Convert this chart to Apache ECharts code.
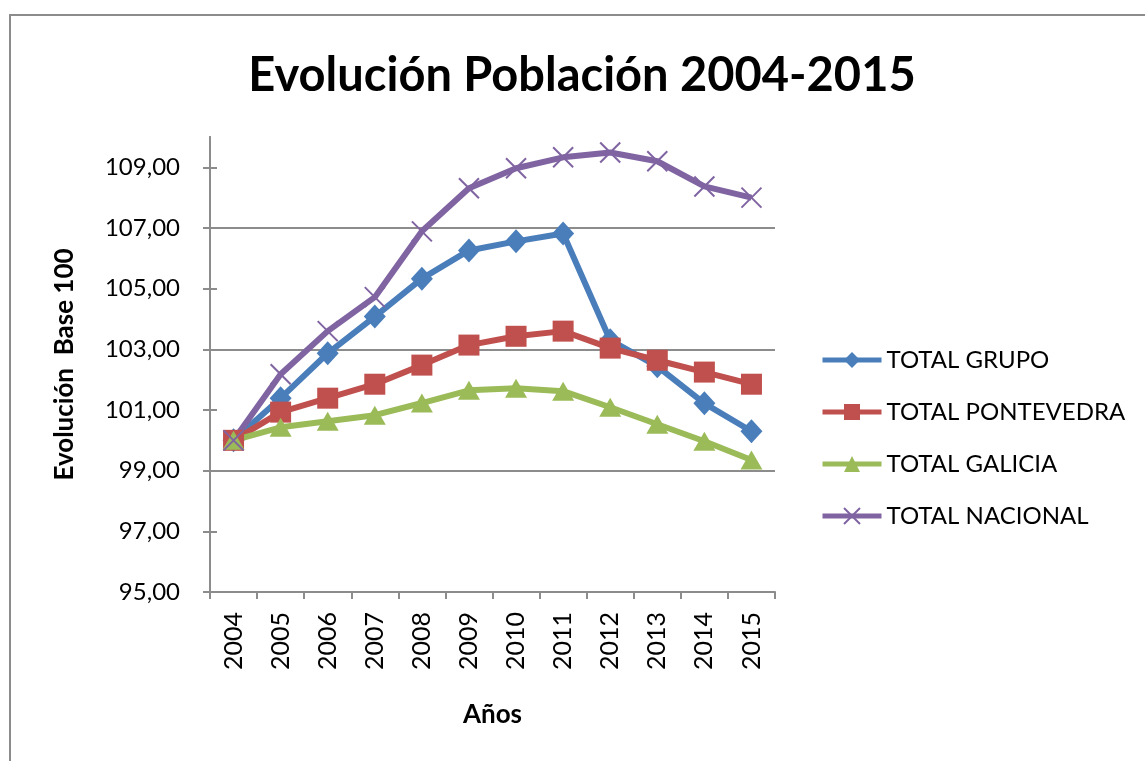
<!DOCTYPE html>
<html>
<head>
<meta charset="utf-8">
<script src="https://cdn.jsdelivr.net/npm/echarts@6/dist/echarts.min.js"></script>
<style>
  html, body { margin: 0; padding: 0; background: #fff; }
  #chart { width: 1145px; height: 761px; }
</style>
</head>
<body>
<div id="chart"></div>
<script>
// Years on the horizontal axis
const years = ['2004','2005','2006','2007','2008','2009','2010','2011','2012','2013','2014','2015'];

// Population index, base 2004 = 100
const totalGrupo      = [100.00, 101.39, 102.87, 104.08, 105.33, 106.26, 106.56, 106.82, 103.30, 102.44, 101.22, 100.30];
const totalPontevedra = [100.00, 100.93, 101.39, 101.85, 102.48, 103.14, 103.43, 103.60, 103.04, 102.64, 102.25, 101.85];
const totalGalicia    = [100.00, 100.43, 100.63, 100.83, 101.23, 101.65, 101.72, 101.62, 101.09, 100.53, 99.97, 99.35];
const totalNacional   = [100.00, 102.18, 103.60, 104.72, 106.89, 108.31, 108.97, 109.33, 109.49, 109.20, 108.37, 108.00];

// Labelled values on the vertical axis
const yTicks = [95, 97, 99, 101, 103, 105, 107, 109];

const FONT = 'Lato';
const GRID_COLOR = '#8c8c8c';

const chart = echarts.init(document.getElementById('chart'), null, { renderer: 'canvas' });

// one split-line colour per integer step from 95 to 110; only odd values are drawn
const splitColors = [];
for (let v = 95; v <= 110; v++) {
  splitColors.push(yTicks.indexOf(v) >= 0 ? GRID_COLOR : 'rgba(0,0,0,0)');
}

function lineSeries(name, data, color, symbol, size, extraItem) {
  return {
    name: name,
    type: 'line',
    data: data,
    yAxisIndex: 0,
    symbol: symbol,
    symbolSize: size,
    showAllSymbol: true,
    lineStyle: { color: color, width: 6 },
    itemStyle: Object.assign({ color: color }, extraItem || {}),
    emphasis: { disabled: true },
    z: 3
  };
}

const option = {
  backgroundColor: '#ffffff',
  animation: false,
  textStyle: { fontFamily: FONT },
  graphic: [{
    type: 'rect',
    silent: true,
    z: -1,
    shape: { x: 10, y: 15, width: 1300, height: 900 },
    style: { fill: 'rgba(0,0,0,0)', stroke: GRID_COLOR, lineWidth: 2 }
  }],
  title: {
    text: 'Evolución Población 2004-2015',
    left: 577,
    textAlign: 'center',
    top: 47,
    textStyle: { fontFamily: FONT, fontWeight: 'bold', fontSize: 47, color: '#000' }
  },
  legend: {
    orient: 'vertical',
    left: 815,
    top: 343,
    itemWidth: 59,
    itemHeight: 20,
    itemGap: 28,
    lineStyle: { width: 5 },
    textStyle: { fontFamily: FONT, fontSize: 24, color: '#000', padding: [0, 0, 0, 0] },
    data: ['TOTAL GRUPO', 'TOTAL PONTEVEDRA', 'TOTAL GALICIA', 'TOTAL NACIONAL']
  },
  grid: { left: 210, right: 370, top: 137, bottom: 169, containLabel: false },
  xAxis: {
    type: 'category',
    data: years,
    boundaryGap: true,
    name: 'Años',
    nameLocation: 'middle',
    nameGap: 110,
    nameTextStyle: { fontFamily: FONT, fontWeight: 'bold', fontSize: 26, color: '#000' },
    axisLine: { lineStyle: { color: GRID_COLOR, width: 2 } },
    axisTick: { show: true, alignWithLabel: false, length: 7, lineStyle: { color: GRID_COLOR, width: 2 } },
    axisLabel: { rotate: 90, margin: 20, fontFamily: FONT, fontSize: 25, color: '#000', interval: 0 },
    splitLine: { show: false }
  },
  yAxis: [{
    type: 'value',
    min: 95,
    max: 110,
    interval: 1,
    name: 'Evolución  Base 100',
    nameLocation: 'middle',
    nameRotate: 90,
    nameGap: 132,
    nameTextStyle: { fontFamily: FONT, fontWeight: 'bold', fontSize: 26, color: '#000' },
    axisLine: { show: true, lineStyle: { color: GRID_COLOR, width: 2 } },
    axisTick: { show: true, length: 7, customValues: yTicks, lineStyle: { color: GRID_COLOR, width: 2 } },
    axisLabel: {
      margin: 30,
      fontFamily: FONT,
      fontSize: 24,
      color: '#000',
      customValues: yTicks,
      formatter: v => v.toFixed(2).replace('.', ',')
    },
    splitLine: { show: true, lineStyle: { color: splitColors, width: 2 } }
  }, {
    // inner half of the crossing tick marks
    type: 'value',
    min: 95,
    max: 110,
    interval: 1,
    position: 'left',
    axisLine: { show: true, lineStyle: { color: GRID_COLOR, width: 2 } },
    axisTick: { show: true, inside: true, length: 7, customValues: yTicks, lineStyle: { color: GRID_COLOR, width: 2 } },
    axisLabel: { show: false },
    splitLine: { show: false }
  }],
  series: [
    lineSeries('TOTAL GRUPO', totalGrupo, '#4a7ebb', 'diamond', [22, 24]),
    lineSeries('TOTAL PONTEVEDRA', totalPontevedra, '#c0504d', 'rect', 21),
    lineSeries('TOTAL GALICIA', totalGalicia, '#9bbb59', 'triangle', [22, 19]),
    lineSeries('TOTAL NACIONAL', totalNacional, '#8064a2', 'path://M0,0L10,10M10,0L0,10', 20,
      { borderColor: '#8064a2', borderWidth: 2 })
  ]
};

chart.setOption(option);
</script>
</body>
</html>
